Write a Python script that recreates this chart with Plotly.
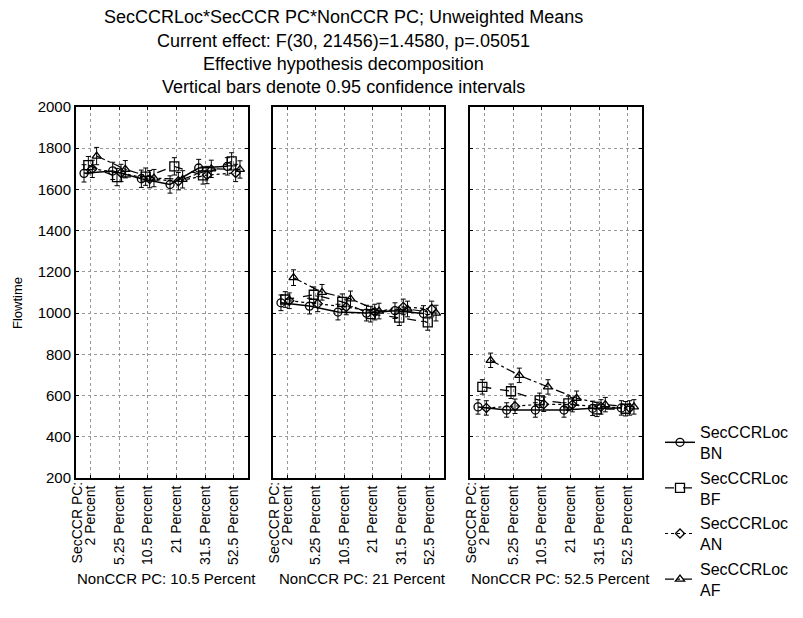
import plotly.graph_objects as go

categories = ["2 Percent", "5.25 Percent", "10.5 Percent", "21 Percent", "31.5 Percent", "52.5 Percent"]
first_cat_prefix = "SecCCR PC:"
panels = ["NonCCR PC: 10.5 Percent", "NonCCR PC: 21 Percent", "NonCCR PC: 52.5 Percent"]
series_names = ["SecCCRLoc<br>BN", "SecCCRLoc<br>BF", "SecCCRLoc<br>AN", "SecCCRLoc<br>AF"]

# means per series, per panel (6 SecCCR PC levels)
bn = [[1678, 1690, 1652, 1624, 1704, 1712],
      [1050, 1034, 1005, 1000, 1012, 998],
      [545, 530, 530, 530, 538, 540]]
bf = [[1718, 1660, 1662, 1712, 1668, 1736],
      [1066, 1089, 1055, 995, 978, 955],
      [642, 621, 577, 562, 533, 536]]
an = [[1700, 1680, 1650, 1640, 1670, 1680],
      [1060, 1045, 1030, 1005, 1030, 1020],
      [540, 548, 558, 556, 545, 540]]
af = [[1762, 1698, 1655, 1649, 1700, 1697],
      [1172, 1101, 1069, 1010, 1020, 1000],
      [771, 698, 642, 587, 556, 545]]
ci_half = [[42, 42, 42, 42, 42, 42],
           [38, 38, 38, 38, 38, 38],
           [35, 35, 35, 35, 35, 35]]

y_ticks = [200, 400, 600, 800, 1000, 1200, 1400, 1600, 1800, 2000]

data_sets = [bn, bf, an, af]
offsets = [-0.22, -0.07, 0.07, 0.22]
symbols = ["circle-open", "square-open", "diamond-open", "triangle-up-open"]
sizes = [8, 9, 7, 8]
dashes = ["solid", "dash", "dot", "dashdot"]
widths = [1.5, 1.3, 1.2, 1.2]

fig = go.Figure()
L, R, T, B = 76, 161, 107, 140
W, H = 803, 618
pw = W - L - R
ph = H - T - B

def px(x0, x1):
    return [(x0 - L) / pw, (x1 - L) / pw]

def py(y):
    return (H - B - y) / ph

domains = [px(76, 248), px(273, 444), px(470, 642)]

for p in range(3):
    for s in range(4):
        fig.add_trace(go.Scatter(
            x=[i + offsets[s] for i in range(6)],
            y=data_sets[s][p],
            mode="lines+markers",
            name=series_names[s],
            legendgroup=str(s),
            showlegend=(p == 0),
            line=dict(color="black", width=widths[s], dash=dashes[s]),
            marker=dict(symbol=symbols[s], size=sizes[s], color="black",
                        line=dict(color="black", width=1.3)),
            error_y=dict(type="data", array=ci_half[p], color="black",
                         thickness=1, width=2.5),
            xaxis="x" if p == 0 else f"x{p+1}",
            yaxis="y" if p == 0 else f"y{p+1}",
        ))

axis_common = dict(showline=True, linecolor="black", linewidth=2, mirror="ticks",
                   ticks="inside", ticklen=3, tickcolor="black",
                   showgrid=True, gridcolor="#999999", griddash="dot", gridwidth=1,
                   zeroline=False, automargin=False)

layout = dict(
    width=W, height=H,
    margin=dict(l=L, r=R, t=T, b=B, autoexpand=False),
    paper_bgcolor="white", plot_bgcolor="white",
    font=dict(family="Liberation Sans, Arial, sans-serif", size=14, color="black"),
    showlegend=True,
    legend=dict(xref="container", yref="container", x=660 / W, y=1 - 415 / H,
                xanchor="left", yanchor="top",
                font=dict(size=16), tracegroupgap=1, bgcolor="rgba(0,0,0,0)"),
)
for p in range(3):
    xa = "xaxis" if p == 0 else f"xaxis{p+1}"
    ya = "yaxis" if p == 0 else f"yaxis{p+1}"
    layout[xa] = dict(axis_common, domain=domains[p], range=[-0.5, 5.5],
                      tickvals=list(range(6)), ticktext=categories, tickangle=-90,
                      anchor="y" if p == 0 else f"y{p+1}", tickfont=dict(size=14))
    layout[ya] = dict(axis_common, domain=[0, 1], range=[200, 2000],
                      tickvals=y_ticks, showticklabels=(p == 0),
                      anchor="x" if p == 0 else f"x{p+1}", tickfont=dict(size=15))
fig.update_layout(**layout)

for p in range(3):
    fig.add_annotation(text=first_cat_prefix, x=-0.45, y=py(479),
                       xref="x" if p == 0 else f"x{p+1}", yref="paper",
                       showarrow=False, textangle=-90, xanchor="center", yanchor="top",
                       font=dict(size=14))

titles = ["SecCCRLoc*SecCCR PC*NonCCR PC; Unweighted Means",
          "Current effect: F(30, 21456)=1.4580, p=.05051",
          "Effective hypothesis decomposition",
          "Vertical bars denote 0.95 confidence intervals"]
for i, (t, yy) in enumerate(zip(titles, [17, 41, 64, 87])):
    fig.add_annotation(text=t, x=(343 - L) / pw, y=py(yy), xref="paper", yref="paper",
                       showarrow=False, xanchor="center", yanchor="middle",
                       font=dict(family="Liberation Sans Narrow, Arial Narrow, Liberation Sans, Arial", size=18))

fig.add_annotation(text="Flowtime", x=(17 - L) / pw, y=py(303), xref="paper", yref="paper",
                   showarrow=False, textangle=-90, xanchor="center", yanchor="middle",
                   font=dict(size=13))

for p, lab in enumerate(panels):
    cx = (domains[p][0] + domains[p][1]) / 2 + 4 / pw
    fig.add_annotation(text=lab, x=cx, y=py(578), xref="paper", yref="paper",
                       showarrow=False, xanchor="center", yanchor="middle",
                       font=dict(size=15))

fig.write_html("out.html", config={"displayModeBar": False},
               post_script="document.body.style.margin='0px';document.body.style.overflow='hidden';")
